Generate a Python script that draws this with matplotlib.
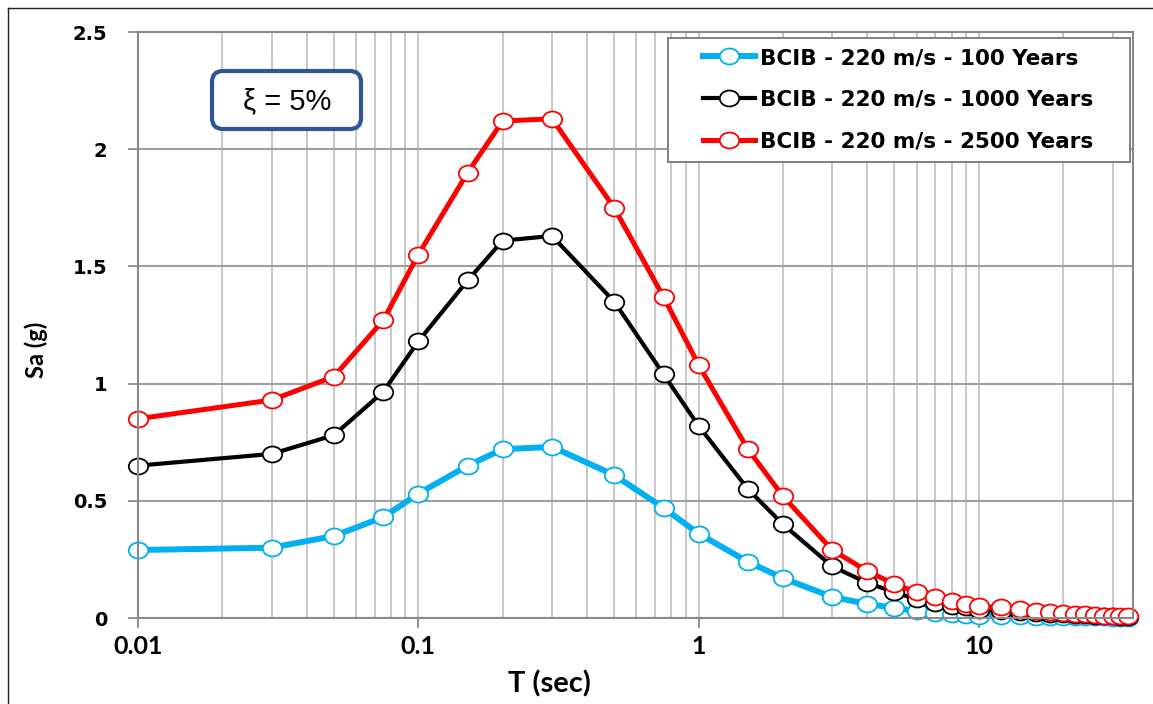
import matplotlib
matplotlib.use("Agg")
import matplotlib.pyplot as plt
import numpy as np
from matplotlib.path import Path
from matplotlib.patches import FancyBboxPatch, Rectangle
from matplotlib.lines import Line2D
from matplotlib.ticker import FixedLocator, NullFormatter, FixedFormatter

# Spectral periods (s)
periods = [0.01, 0.03, 0.05, 0.075, 0.1, 0.15, 0.2, 0.3, 0.5, 0.75, 1.0, 1.5, 2.0,
           3.0, 4.0, 5.0, 6.0, 7.0, 8.0, 9.0, 10.0, 12.0, 14.0, 16.0, 18.0, 20.0,
           22.0, 24.0, 26.0, 28.0, 30.0, 32.0, 34.0]

# Spectral accelerations Sa (g)
sa_100 = [0.29, 0.30, 0.35, 0.43, 0.53, 0.65, 0.72, 0.73, 0.61, 0.47, 0.36, 0.24, 0.17,
          0.09, 0.06, 0.043, 0.030, 0.022, 0.017, 0.013, 0.010, 0.008, 0.007, 0.006,
          0.005, 0.004, 0.004, 0.003, 0.003, 0.003, 0.002, 0.002, 0.002]
sa_1000 = [0.65, 0.70, 0.78, 0.965, 1.18, 1.44, 1.61, 1.63, 1.35, 1.04, 0.82, 0.55, 0.40,
           0.22, 0.15, 0.11, 0.08, 0.065, 0.052, 0.045, 0.035, 0.030, 0.025, 0.021,
           0.018, 0.015, 0.013, 0.011, 0.009, 0.008, 0.007, 0.006, 0.006]
sa_2500 = [0.85, 0.93, 1.03, 1.27, 1.55, 1.90, 2.12, 2.13, 1.75, 1.37, 1.08, 0.72, 0.52,
           0.29, 0.20, 0.145, 0.11, 0.09, 0.073, 0.06, 0.05, 0.045, 0.038, 0.031,
           0.026, 0.022, 0.018, 0.015, 0.012, 0.010, 0.009, 0.008, 0.008]

series_labels = ["BCIB - 220 m/s - 100 Years",
                 "BCIB - 220 m/s - 1000 Years",
                 "BCIB - 220 m/s - 2500 Years"]
series_colors = ["#00B0F0", "#000000", "#FF0000"]
series_widths = [4.3, 3.0, 3.6]

x_ticks = [0.01, 0.1, 1, 10]
x_ticklabels = ["0.01", "0.1", "1", "10"]
y_ticks = [0, 0.5, 1, 1.5, 2, 2.5]
y_ticklabels = ["0", "0.5", "1", "1.5", "2", "2.5"]

W, H = 1153, 704
fig = plt.figure(figsize=(W / 100, H / 100), dpi=100)
ax = fig.add_axes([138 / W, 1 - 618 / H, (1133 - 138) / W, (618 - 32) / H])

# slightly flattened circle marker
circ = Path.unit_circle()
ellipse = Path(circ.vertices * np.array([1.0, 0.82]), circ.codes)

for ys, lab, col, lw in zip([sa_100, sa_1000, sa_2500], series_labels,
                            series_colors, series_widths):
    ax.plot(periods, ys, color=col, lw=lw, marker=ellipse, ms=14,
            mfc="white", mec=col, mew=1.3, label=lab, solid_joinstyle="round",
            clip_on=False)

ax.set_xscale("log")
ax.set_xlim(0.01, 35.5)
ax.set_ylim(0, 2.5)

ax.xaxis.set_major_locator(FixedLocator(x_ticks))
ax.xaxis.set_major_formatter(FixedFormatter(x_ticklabels))
minor = [m * 10.0 ** e for e in range(-2, 2) for m in range(2, 10)]
ax.xaxis.set_minor_locator(FixedLocator(minor))
ax.xaxis.set_minor_formatter(NullFormatter())
ax.yaxis.set_major_locator(FixedLocator(y_ticks))
ax.yaxis.set_major_formatter(FixedFormatter(y_ticklabels))

ax.grid(True, which="major", axis="y", color="#A0A0A0", lw=1.5, zorder=0)
ax.grid(True, which="both", axis="x", color="#C4C4C4", lw=1.3, zorder=0)
ax.set_axisbelow(True)

for s in ax.spines.values():
    s.set_color("#8A8A8A")
    s.set_linewidth(1.5)

ax.tick_params(axis="both", which="major", direction="out", length=7,
               width=1.3, color="#8A8A8A")
ax.tick_params(axis="x", which="minor", length=0)
ax.tick_params(axis="y", pad=15)
ax.tick_params(axis="x", pad=5)

for t in ax.get_yticklabels():
    t.set_fontfamily("DejaVu Sans")
    t.set_fontweight("bold")
    t.set_fontsize(14)
for t in ax.get_xticklabels():
    t.set_fontfamily("Lato")
    t.set_fontweight("bold")
    t.set_fontsize(18)

ax.set_ylabel("Sa (g)", fontfamily="Lato", fontweight="bold", fontsize=17)
ax.yaxis.set_label_coords((48 - 138) / 995, (618 - 350) / 586)
ax.set_xlabel("T (sec)", fontfamily="Lato", fontweight="bold", fontsize=21)
ax.xaxis.set_label_coords((549 - 138) / 995, (618 - 670) / 586)

# legend: entries placed without frame, box drawn separately beneath them
leg = ax.legend(loc="upper left", bbox_to_anchor=(703 / W, 1 - 48 / H),
                bbox_transform=fig.transFigure, borderaxespad=0, borderpad=0,
                prop={"family": "DejaVu Sans", "weight": "bold", "size": 15.5},
                handlelength=2.4, handletextpad=0.25, labelspacing=1.0,
                frameon=False)
leg.set_zorder(8)
legend_box = Rectangle((668 / 100, (H - 162) / 100), (1130 - 668) / 100, (162 - 38) / 100,
                       transform=fig.dpi_scale_trans, fc="white", ec="#808080",
                       lw=1.4, zorder=6, clip_on=False)
ax.add_artist(legend_box)

# damping annotation box
box = FancyBboxPatch((2.12, (H - 129) / 100), 1.49, 0.58,
                     boxstyle="round,pad=0,rounding_size=0.11",
                     transform=fig.dpi_scale_trans, fc="white", ec="#2F5597",
                     lw=3, zorder=6, clip_on=False)
ax.add_artist(box)
ax.text(287 / W, 1 - 101 / H, "ξ = 5%", ha="center", va="center",
        transform=fig.transFigure, fontfamily="Liberation Sans", fontsize=21,
        zorder=7)

# outer chart frame
fig.add_artist(Line2D([8 / W, 8 / W], [0, 1 - 8 / H], transform=fig.transFigure,
                      color="#202020", lw=1))
fig.add_artist(Line2D([8 / W, 1], [1 - 8 / H, 1 - 8 / H], transform=fig.transFigure,
                      color="#202020", lw=1))

fig.savefig("out.png", dpi=100, facecolor="white")
